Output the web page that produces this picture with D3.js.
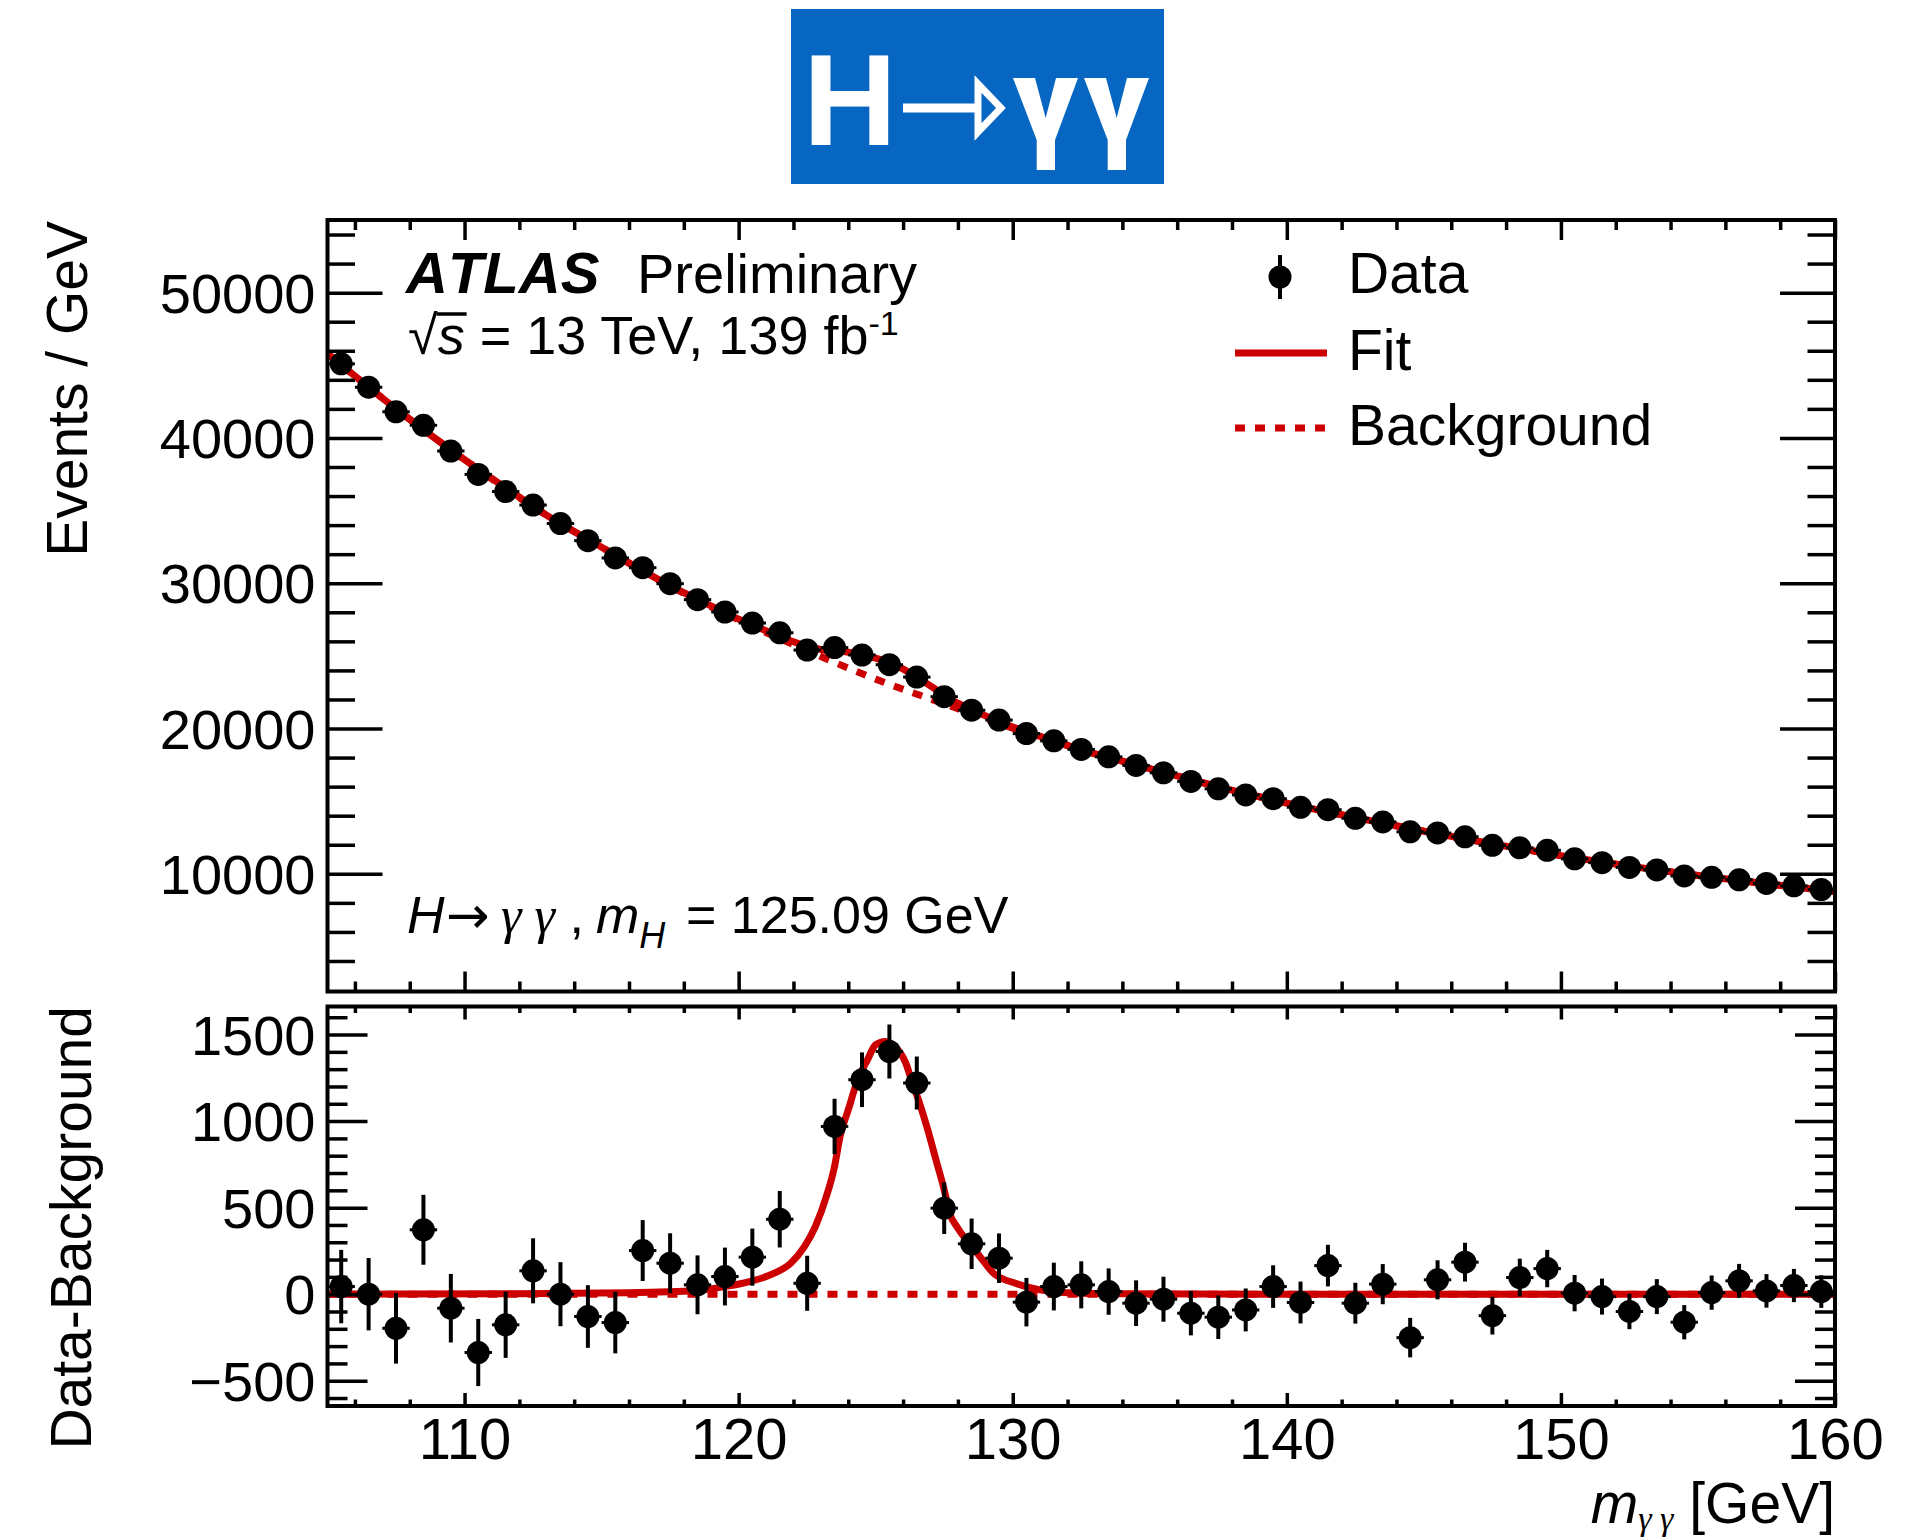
<!DOCTYPE html>
<html>
<head>
<meta charset="utf-8">
<script src="https://cdn.jsdelivr.net/npm/d3@7"></script>
<style>
  body { margin: 0; background: #fff; }
  svg { display: block; }
  text { font-family: "Liberation Sans", Arial, Helvetica, sans-serif; fill: #000; }
</style>
</head>
<body>
<svg id="chart" width="1926" height="1539"></svg>
<script>
// bin centres in GeV
const massBins = [105.5, 106.5, 107.5, 108.5, 109.5, 110.5, 111.5, 112.5, 113.5, 114.5,
  115.5, 116.5, 117.5, 118.5, 119.5, 120.5, 121.5, 122.5, 123.5, 124.5,
  125.5, 126.5, 127.5, 128.5, 129.5, 130.5, 131.5, 132.5, 133.5, 134.5,
  135.5, 136.5, 137.5, 138.5, 139.5, 140.5, 141.5, 142.5, 143.5, 144.5,
  145.5, 146.5, 147.5, 148.5, 149.5, 150.5, 151.5, 152.5, 153.5, 154.5,
  155.5, 156.5, 157.5, 158.5, 159.5];

const events = [45100, 43490, 41800, 40870, 39100, 37490, 36310, 35380, 34110, 32930,
  31740, 31070, 29970, 28870, 28020, 27260, 26590, 25400, 25570, 25060,
  24390, 23540, 22190, 21260, 20580, 19650, 19150, 18560, 18050, 17460,
  16950, 16360, 15850, 15430, 15170, 14580, 14410, 13820, 13570, 12890,
  12810, 12550, 11960, 11790, 11620, 11030, 10770, 10440, 10270, 9850,
  9760, 9590, 9340, 9170, 8920];

const errors = [212, 209, 204, 202, 198, 194, 191, 188, 185, 181,
  178, 176, 173, 170, 167, 165, 163, 159, 160, 158,
  156, 153, 149, 146, 143, 140, 138, 136, 134, 132,
  130, 128, 126, 124, 123, 121, 120, 118, 116, 114,
  113, 112, 109, 109, 108, 105, 104, 102, 101, 99,
  99, 98, 97, 96, 94];

// data - background
const residual = [44, 0, -197, 372, -81, -337, -177, 135, 0, -129,
  -164, 252, 179, 54, 102, 214, 433, 63, 969, 1239,
  1402, 1220, 497, 291, 208, -46, 44, 54, 15, -52,
  -29, -110, -133, -91, 44, -48, 165, -52, 58, -251,
  83, 185, -124, 96, 148, 6, -14, -100, -14, -162,
  9, 77, 19, 50, 15];

const bkgMass = [105, 107.5, 110, 112.5, 115, 117.5, 120, 122.5, 125, 127.5, 130, 132.5,
  135, 137.5, 140, 142.5, 145, 147.5, 150, 152.5, 155, 157.5, 160];
const bkgEvents = [45800, 42000, 38500, 35270, 32470, 29800, 27470, 25360, 23400, 21700, 20030, 18530,
  17240, 15990, 14870, 13870, 12930, 12060, 11250, 10530, 9880, 9310, 8780];

// signal part of the fit (fit - background)
const sigMass = [105, 112, 116, 118.5, 119.5, 120.4, 121.3, 121.9, 122.4, 122.8, 123.2, 123.5,
  123.7, 124.0, 124.3, 124.7, 125.0, 125.35, 125.7, 126.1, 126.3, 126.6, 126.9, 127.2,
  127.5, 127.7, 128.0, 128.4, 128.8, 129.3, 130.1, 131.0, 132.0, 134, 140, 160];
const sigEvents = [0, 3, 8, 21, 44, 73, 121, 179, 275, 391, 564, 738,
  911, 1065, 1219, 1354, 1441, 1460, 1431, 1335, 1239, 1104, 950, 776,
  603, 468, 381, 295, 218, 121, 63, 25, 8, 2, 0, 0];

const massTicks = [110, 120, 130, 140, 150, 160];
const massMinor = [106, 108, 112, 114, 116, 118, 122, 124, 126, 128, 132, 134, 136, 138,
  142, 144, 146, 148, 152, 154, 156, 158];
const eventTicks = [10000, 20000, 30000, 40000, 50000];
const eventMinor = [4000, 6000, 8000, 12000, 14000, 16000, 18000, 22000, 24000, 26000, 28000,
  32000, 34000, 36000, 38000, 42000, 44000, 46000, 48000, 52000, 54000];
const diffTicks = [-500, 0, 500, 1000, 1500];
const diffMinor = [-600, -400, -300, -200, -100, 100, 200, 300, 400, 600, 700, 800, 900,
  1100, 1200, 1300, 1400, 1600];

const legendLabels = ['Data', 'Fit', 'Background'];

const RED = '#cc0000';
const svg = d3.select('#chart');
svg.append('rect').attr('width', 1926).attr('height', 1539).attr('fill', '#fff');

const frameX = [327.5, 1835];
const topPad = { top: 220, bottom: 991.5 };
const botPad = { top: 1006.5, bottom: 1406 };

const x = d3.scaleLinear().domain([105, 160]).range(frameX);
const yTop = d3.scaleLinear().domain([1900, 55000]).range([topPad.bottom, topPad.top]);
const yBot = d3.scaleLinear().domain([-646, 1662]).range([botPad.bottom, botPad.top]);

const bkgAt = d3.scaleLinear().domain(bkgMass).range(bkgEvents);
const sigAt = d3.scaleLinear().domain(sigMass).range(sigEvents);

// ---- banner
svg.append('rect').attr('x', 791).attr('y', 9).attr('width', 373).attr('height', 175).attr('fill', '#0766c1');
svg.append('text').attr('x', 803).attr('y', 145)
    .style('font-size', '130px').style('font-weight', 'bold').style('fill', '#fff')
    .text('H');
svg.append('line').attr('x1', 903).attr('x2', 979).attr('y1', 108).attr('y2', 108)
    .attr('stroke', '#fff').attr('stroke-width', 9);
svg.append('path').attr('d', 'M978,84 L1001,108 L978,132 Z')
    .attr('fill', 'none').attr('stroke', '#fff').attr('stroke-width', 7);
// straight-stroked bold gammas of the logo
const gamma = (ox, oy) => `M${ox},${oy} h22 l10.7,40 l10.3,-40 h22 l-23,62 v30 h-18.3 v-30 Z`;
svg.append('path').attr('d', gamma(1013, 78) + gamma(1084, 78)).attr('fill', '#fff');

// ---- frames and ticks
function drawAxes(pad, y, yMajor, yMinor, yLen, xLen, yFmt, xFmt) {
    const g = svg.append('g');
    const add = (axis, tx, ty, values, size, fmt) => {
        const a = g.append('g').attr('transform', `translate(${tx},${ty})`)
            .call(axis.tickValues(values).tickSize(-size).tickPadding(12).tickFormat(fmt || ''));
        a.select('.domain').remove();
        a.selectAll('line').attr('stroke', '#000').attr('stroke-width', 3.5);
        return a;
    };
    const w = frameX[1] - frameX[0];
    const h = pad.bottom - pad.top;
    const left = add(d3.axisLeft(y), frameX[0], 0, yMajor, yLen, yFmt);
    left.selectAll('text').style('font-size', '56px').attr('dy', '0.35em');
    add(d3.axisLeft(y), frameX[0], 0, yMinor, yLen / 2);
    add(d3.axisRight(y), frameX[1], 0, yMajor, yLen);
    add(d3.axisRight(y), frameX[1], 0, yMinor, yLen / 2);
    const bottom = add(d3.axisBottom(x), 0, pad.bottom, massTicks, xLen, xFmt);
    bottom.selectAll('text').style('font-size', '58px');
    add(d3.axisBottom(x), 0, pad.bottom, massMinor, xLen / 2);
    add(d3.axisTop(x), 0, pad.top, massTicks, xLen);
    add(d3.axisTop(x), 0, pad.top, massMinor, xLen / 2);
    g.append('rect').attr('x', frameX[0]).attr('y', pad.top).attr('width', w).attr('height', h)
        .attr('fill', 'none').attr('stroke', '#000').attr('stroke-width', 4);
}

const clip = (id, pad) => svg.append('clipPath').attr('id', id).append('rect')
    .attr('x', frameX[0]).attr('y', pad.top)
    .attr('width', frameX[1] - frameX[0]).attr('height', pad.bottom - pad.top);
clip('clipTop', topPad);
clip('clipBot', botPad);

// ---- top panel curves
const fitMass = Array.from(new Set(bkgMass.concat(sigMass))).sort((a, b) => a - b);
const lineTop = d3.line().x(d => x(d[0])).y(d => yTop(d[1])).curve(d3.curveMonotoneX);
const gTop = svg.append('g').attr('clip-path', 'url(#clipTop)');
gTop.append('path')
    .attr('d', lineTop(bkgMass.map((m, i) => [m, bkgEvents[i]])))
    .attr('fill', 'none').attr('stroke', RED).attr('stroke-width', 7).attr('stroke-dasharray', '10,10');
gTop.append('path')
    .attr('d', lineTop(fitMass.map(m => [m, bkgAt(m) + sigAt(m)])))
    .attr('fill', 'none').attr('stroke', RED).attr('stroke-width', 7);

// ---- bottom panel curves
const lineBot = d3.line().x(d => x(d[0])).y(d => yBot(d[1])).curve(d3.curveMonotoneX);
const gBot = svg.append('g').attr('clip-path', 'url(#clipBot)');
gBot.append('line').attr('x1', x(105)).attr('x2', x(160)).attr('y1', yBot(0)).attr('y2', yBot(0))
    .attr('stroke', RED).attr('stroke-width', 7).attr('stroke-dasharray', '10,10');
gBot.append('path')
    .attr('d', lineBot(sigMass.map((m, i) => [m, sigEvents[i]])))
    .attr('fill', 'none').attr('stroke', RED).attr('stroke-width', 7);

// ---- data points
function drawPoints(vals, y) {
    const g = svg.append('g');
    const pts = massBins.map((m, i) => ({ m, v: vals[i], e: errors[i] }));
    g.selectAll('line.ey').data(pts).join('line')
        .attr('x1', d => x(d.m)).attr('x2', d => x(d.m))
        .attr('y1', d => y(d.v - d.e)).attr('y2', d => y(d.v + d.e))
        .attr('stroke', '#000').attr('stroke-width', 4);
    g.selectAll('line.ex').data(pts).join('line')
        .attr('x1', d => x(d.m - 0.5)).attr('x2', d => x(d.m + 0.5))
        .attr('y1', d => y(d.v)).attr('y2', d => y(d.v))
        .attr('stroke', '#000').attr('stroke-width', 3);
    g.selectAll('circle').data(pts).join('circle')
        .attr('cx', d => x(d.m)).attr('cy', d => y(d.v)).attr('r', 11.5).attr('fill', '#000');
}
drawPoints(events, yTop);
drawPoints(residual, yBot);

drawAxes(topPad, yTop, eventTicks, eventMinor, 55, 20, d3.format('d'), '');
drawAxes(botPad, yBot, diffTicks, diffMinor, 40, 13,
    d => (d < 0 ? '\u2212' + Math.abs(d) : String(d)), d => String(d));

// ---- axis titles
svg.append('text').attr('transform', 'translate(87,221) rotate(-90)')
    .attr('text-anchor', 'end').style('font-size', '57px').text('Events / GeV');
svg.append('text').attr('transform', 'translate(91,1006) rotate(-90)')
    .attr('text-anchor', 'end').style('font-size', '57px').text('Data-Background');

const xt = svg.append('text').attr('x', 1835).attr('y', 1523).attr('text-anchor', 'end')
    .style('font-size', '57px');
xt.append('tspan').style('font-style', 'italic').text('m');
xt.append('tspan').attr('dy', 7).style('font-size', '34px').style('font-style', 'italic')
    .style('font-family', '"Liberation Serif", serif').text('γ γ');
xt.append('tspan').attr('dy', -7).text(' [GeV]');

// ---- labels
const atlas = svg.append('text').attr('x', 406).attr('y', 293).style('font-size', '56px');
atlas.append('tspan').style('font-weight', 'bold').style('font-style', 'italic')
    .style('font-size', '58px').style('font-kerning', 'none').text('ATLAS');
atlas.append('tspan').attr('x', 637).text('Preliminary');

const lumi = svg.append('text').attr('x', 408).attr('y', 354).style('font-size', '54px');
lumi.append('tspan').text('\u221A');
lumi.append('tspan').style('font-style', 'italic').text('s');
lumi.append('tspan').text(' = 13 TeV, 139 fb');
lumi.append('tspan').attr('dy', -19).style('font-size', '34px').text('-1');
const ln = lumi.node();
const sx0 = 408 + ln.getSubStringLength(0, 1);
const sw = ln.getSubStringLength(1, 1);
svg.append('line').attr('x1', sx0 - 1).attr('x2', sx0 + sw + 2).attr('y1', 314).attr('y2', 314)
    .attr('stroke', '#000').attr('stroke-width', 3.5);

const proc = svg.append('text').attr('x', 407).attr('y', 933).style('font-size', '52px');
proc.append('tspan').style('font-style', 'italic').text('H');
proc.append('tspan').attr('x', 446).style('font-family', '"DejaVu Sans", sans-serif').text('\u2192');
proc.append('tspan').attr('x', 501).style('font-style', 'italic')
    .style('font-family', '"Liberation Serif", serif').text('γ γ');
proc.append('tspan').text(' , ');
proc.append('tspan').attr('x', 596).style('font-style', 'italic').text('m');
proc.append('tspan').attr('dy', 15).style('font-size', '36px').style('font-style', 'italic').text('H');
proc.append('tspan').attr('x', 686).attr('dy', -15).text('= 125.09 GeV');

// ---- legend
const leg = svg.append('g');
leg.append('line').attr('x1', 1280).attr('x2', 1280).attr('y1', 255).attr('y2', 299)
    .attr('stroke', '#000').attr('stroke-width', 4);
leg.append('circle').attr('cx', 1280).attr('cy', 277).attr('r', 11.5).attr('fill', '#000');
leg.append('line').attr('x1', 1235).attr('x2', 1327).attr('y1', 353).attr('y2', 353)
    .attr('stroke', RED).attr('stroke-width', 7);
leg.append('line').attr('x1', 1235).attr('x2', 1327).attr('y1', 428).attr('y2', 428)
    .attr('stroke', RED).attr('stroke-width', 7).attr('stroke-dasharray', '10,10');
leg.selectAll('text').data(legendLabels).join('text')
    .attr('x', 1348).attr('y', (d, i) => [293, 370, 445][i])
    .style('font-size', '57px').text(d => d);
</script>
</body>
</html>
